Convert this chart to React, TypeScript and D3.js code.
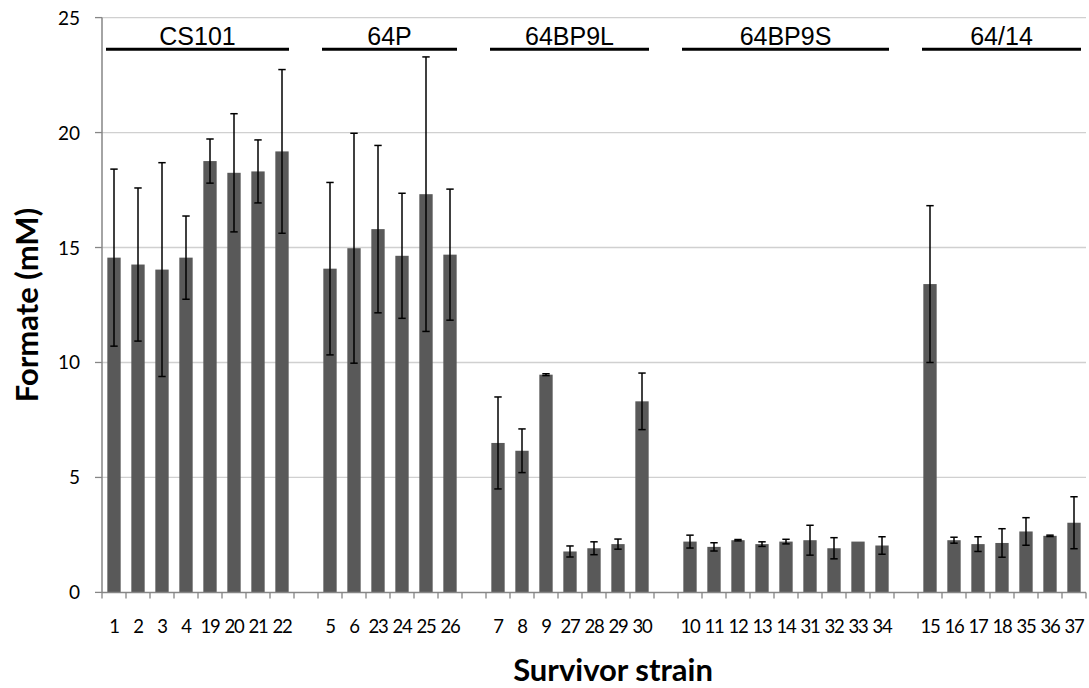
import { useRef, useEffect } from "react";
import * as d3 from "d3";

const groups = ["CS101", "64P", "64BP9L", "64BP9S", "64/14"];

const strains = [
  "1", "2", "3", "4", "19", "20", "21", "22",
  "5", "6", "23", "24", "25", "26",
  "7", "8", "9", "27", "28", "29", "30",
  "10", "11", "12", "13", "14", "31", "32", "33", "34",
  "15", "16", "17", "18", "35", "36", "37",
];

const strainGroup = [
  0, 0, 0, 0, 0, 0, 0, 0,
  1, 1, 1, 1, 1, 1,
  2, 2, 2, 2, 2, 2, 2,
  3, 3, 3, 3, 3, 3, 3, 3, 3,
  4, 4, 4, 4, 4, 4, 4,
];

const means = [
  14.56, 14.26, 14.04, 14.56, 18.76, 18.25, 18.31, 19.18,
  14.08, 14.97, 15.8, 14.64, 17.32, 14.69,
  6.5, 6.16, 9.47, 1.78, 1.92, 2.1, 8.31,
  2.21, 1.98, 2.27, 2.1, 2.21, 2.27, 1.92, 2.21, 2.04,
  13.41, 2.27, 2.1, 2.15, 2.65, 2.46, 3.03,
];

const errors = [
  3.85, 3.33, 4.65, 1.81, 0.96, 2.57, 1.37, 3.56,
  3.75, 5.0, 3.64, 2.72, 5.97, 2.85,
  2.0, 0.95, 0.04, 0.24, 0.28, 0.22, 1.23,
  0.28, 0.18, 0.03, 0.1, 0.1, 0.65, 0.46, 0, 0.38,
  3.41, 0.13, 0.32, 0.62, 0.6, 0.03, 1.13,
];

const yTicks = [0, 5, 10, 15, 20, 25];

const W = 1089;
const H = 688;
const LEFT = 102;
const RIGHT = 1086;
const TOP = 17.6;
const BOTTOM = 592.4;

export default function App() {
  const svgRef = useRef<SVGSVGElement>(null);

  useEffect(() => {
    if (!svgRef.current) return;
    const svg = d3.select(svgRef.current);
    svg.selectAll("*").remove();

    // slots: strains of each group, with an empty slot between groups
    const slots: string[] = [];
    groups.forEach((_, gi) => {
      if (gi > 0) slots.push(`gap${gi}`);
      strains.forEach((s, i) => { if (strainGroup[i] === gi) slots.push(s); });
    });

    const x = d3.scaleBand().domain(slots).range([LEFT, RIGHT]).padding(0);
    const y = d3.scaleLinear().domain([0, 25]).range([BOTTOM, TOP]);
    const bw = x.bandwidth();
    const barW = bw / 1.8;

    // gridlines
    svg.append("g")
      .selectAll("line")
      .data(yTicks.filter(t => t > 0))
      .join("line")
      .attr("x1", LEFT).attr("x2", RIGHT)
      .attr("y1", d => y(d)).attr("y2", d => y(d))
      .attr("stroke", "#d0d0d0")
      .attr("stroke-width", 1.3);

    // y axis
    const yAxis = svg.append("g");
    yAxis.append("line")
      .attr("x1", LEFT).attr("x2", LEFT)
      .attr("y1", TOP).attr("y2", BOTTOM)
      .attr("stroke", "#868686").attr("stroke-width", 1.5);
    yAxis.selectAll(".tick")
      .data(yTicks)
      .join("line")
      .attr("x1", LEFT - 7).attr("x2", LEFT)
      .attr("y1", d => y(d)).attr("y2", d => y(d))
      .attr("stroke", "#868686").attr("stroke-width", 1.3);
    yAxis.selectAll("text")
      .data(yTicks)
      .join("text")
      .attr("x", 80)
      .attr("y", d => y(d) + 7)
      .attr("text-anchor", "end")
      .attr("font-family", "Lato, sans-serif")
      .attr("font-size", 19)
      .attr("fill", "#000")
      .text(d => d);

    // bars
    svg.append("g")
      .selectAll("rect")
      .data(strains)
      .join("rect")
      .attr("x", s => x(s)! + (bw - barW) / 2)
      .attr("width", barW)
      .attr("y", (_, i) => y(means[i]))
      .attr("height", (_, i) => BOTTOM - y(means[i]))
      .attr("fill", "#595959");

    // x axis
    const xAxis = svg.append("g");
    xAxis.append("line")
      .attr("x1", LEFT).attr("x2", RIGHT)
      .attr("y1", BOTTOM).attr("y2", BOTTOM)
      .attr("stroke", "#868686").attr("stroke-width", 1.5);
    xAxis.selectAll(".tick")
      .data([...slots.map(s => x(s)!), RIGHT])
      .join("line")
      .attr("x1", d => d).attr("x2", d => d)
      .attr("y1", BOTTOM).attr("y2", BOTTOM + 6)
      .attr("stroke", "#868686").attr("stroke-width", 1.3);
    xAxis.selectAll("text")
      .data(strains)
      .join("text")
      .attr("x", s => x(s)! + bw / 2)
      .attr("y", 633)
      .attr("text-anchor", "middle")
      .attr("font-family", "Lato, sans-serif")
      .attr("font-size", 18.5)
      .attr("letter-spacing", -1.2)
      .attr("fill", "#000")
      .text(s => s);

    // error bars
    const eb = svg.append("g")
      .selectAll("g")
      .data(strains.map((s, i) => ({ s, m: means[i], e: errors[i] })).filter(d => d.e > 0))
      .join("g")
      .attr("stroke", "#000")
      .attr("stroke-width", 1.5);
    eb.append("line")
      .attr("x1", d => x(d.s)! + bw / 2).attr("x2", d => x(d.s)! + bw / 2)
      .attr("y1", d => y(d.m + d.e)).attr("y2", d => y(d.m - d.e));
    eb.selectAll(".cap")
      .data(d => [{ s: d.s, v: d.m + d.e }, { s: d.s, v: d.m - d.e }])
      .join("line")
      .attr("x1", d => x(d.s)! + bw / 2 - 3.7).attr("x2", d => x(d.s)! + bw / 2 + 3.7)
      .attr("y1", d => y(d.v)).attr("y2", d => y(d.v));

    // group labels with bars
    const gl = svg.append("g")
      .selectAll("g")
      .data(groups.map((name, gi) => {
        const members = strains.filter((_, i) => strainGroup[i] === gi);
        return { name, x0: x(members[0])! + 4, x1: x(members[members.length - 1])! + bw - 5 };
      }))
      .join("g");
    gl.append("line")
      .attr("x1", d => d.x0).attr("x2", d => d.x1)
      .attr("y1", 49.3).attr("y2", 49.3)
      .attr("stroke", "#000").attr("stroke-width", 3);
    gl.append("text")
      .attr("x", d => (d.x0 + d.x1) / 2)
      .attr("y", 45)
      .attr("text-anchor", "middle")
      .attr("font-family", "'Liberation Sans', Arial, sans-serif")
      .attr("font-size", 25)
      .attr("fill", "#000")
      .text(d => d.name);

    // axis titles
    svg.append("text")
      .attr("transform", `translate(38,${(TOP + BOTTOM) / 2}) rotate(-90)`)
      .attr("text-anchor", "middle")
      .attr("font-family", "Lato, sans-serif")
      .attr("font-weight", 700)
      .attr("font-size", 31)
      .attr("fill", "#000")
      .text("Formate (mM)");
    svg.append("text")
      .attr("x", 613)
      .attr("y", 681)
      .attr("text-anchor", "middle")
      .attr("font-family", "Lato, sans-serif")
      .attr("font-weight", 700)
      .attr("font-size", 31)
      .attr("fill", "#000")
      .text("Survivor strain");
  }, []);

  return (
    <div style={{ position: "absolute", left: 0, top: 0 }}>
      <svg ref={svgRef} width={W} height={H} style={{ display: "block", background: "#fff" }} />
    </div>
  );
}
